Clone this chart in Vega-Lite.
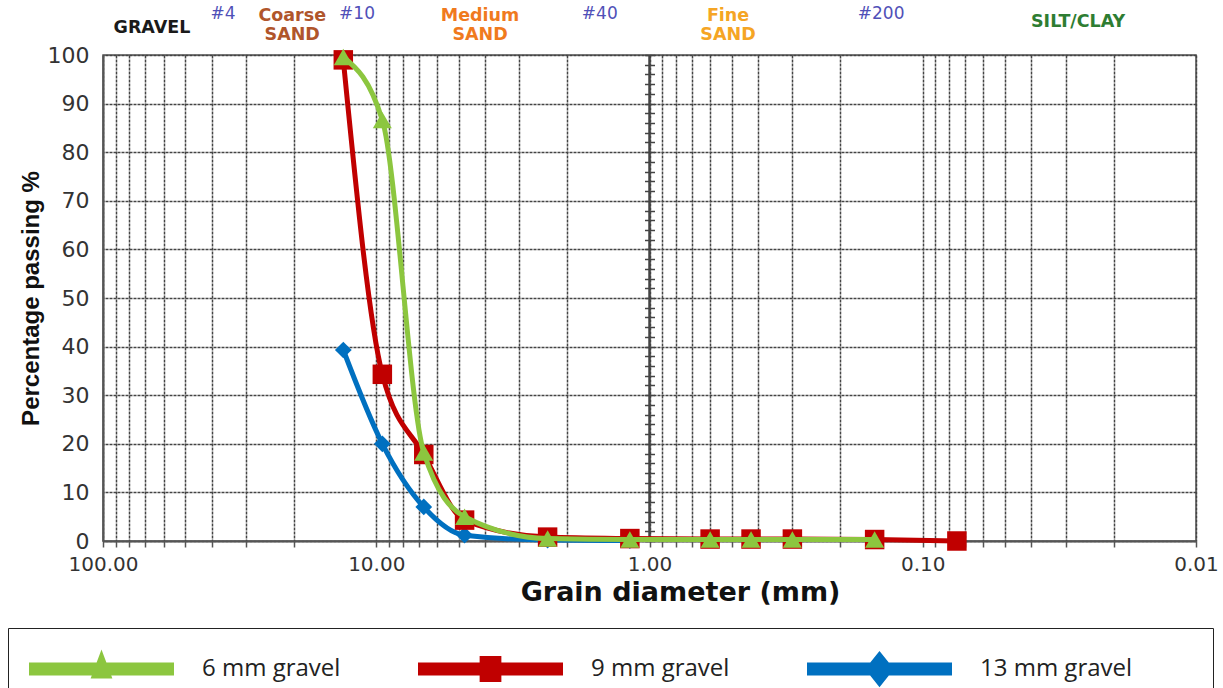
{
  "$schema": "https://vega.github.io/schema/vega-lite/v6.json",
  "width": 1093,
  "height": 486,
  "autosize": {"type": "none"},
  "padding": {"left": 103, "top": 55, "right": 27, "bottom": 147},
  "background": "white",
  "config": {"font": "DejaVu Sans", "view": {"stroke": "#555", "strokeWidth": 1.5}},
  "datasets": {
    "sieve": [
      {"s": "13 mm gravel", "d": 13.2, "p": 39.3},
      {"s": "13 mm gravel", "d": 9.5, "p": 20},
      {"s": "13 mm gravel", "d": 6.7, "p": 7},
      {"s": "13 mm gravel", "d": 4.75, "p": 1.2},
      {"s": "13 mm gravel", "d": 2.36, "p": 0.2},
      {"s": "13 mm gravel", "d": 1.18, "p": 0.1},
      {"s": "9 mm gravel", "d": 13.2, "p": 99},
      {"s": "9 mm gravel", "d": 9.5, "p": 34.3},
      {"s": "9 mm gravel", "d": 6.7, "p": 17.8},
      {"s": "9 mm gravel", "d": 4.75, "p": 4.3},
      {"s": "9 mm gravel", "d": 2.36, "p": 0.8},
      {"s": "9 mm gravel", "d": 1.18, "p": 0.5},
      {"s": "9 mm gravel", "d": 0.6, "p": 0.4},
      {"s": "9 mm gravel", "d": 0.425, "p": 0.4},
      {"s": "9 mm gravel", "d": 0.3, "p": 0.4},
      {"s": "9 mm gravel", "d": 0.15, "p": 0.3},
      {"s": "9 mm gravel", "d": 0.075, "p": 0},
      {"s": "6 mm gravel", "d": 13.2, "p": 99.6},
      {"s": "6 mm gravel", "d": 9.5, "p": 86.6},
      {"s": "6 mm gravel", "d": 6.7, "p": 18.2},
      {"s": "6 mm gravel", "d": 4.75, "p": 5},
      {"s": "6 mm gravel", "d": 2.36, "p": 0.5},
      {"s": "6 mm gravel", "d": 1.18, "p": 0.3},
      {"s": "6 mm gravel", "d": 0.6, "p": 0.3},
      {"s": "6 mm gravel", "d": 0.425, "p": 0.3},
      {"s": "6 mm gravel", "d": 0.3, "p": 0.3},
      {"s": "6 mm gravel", "d": 0.15, "p": 0.3}
    ],
    "zones": [
      {"t": "GRAVEL", "d": 66.2, "p": 105.6, "k": "gravel"},
      {"t": ["Coarse", "SAND"], "d": 20.3, "p": 108.1, "k": "coarse"},
      {"t": ["Medium", "SAND"], "d": 4.17, "p": 108.1, "k": "medium"},
      {"t": ["Fine", "SAND"], "d": 0.516, "p": 108.0, "k": "fine"},
      {"t": "SILT/CLAY", "d": 0.027, "p": 106.8, "k": "silt"}
    ],
    "sieves": [
      {"t": "#4", "d": 36.4, "p": 108.4},
      {"t": "#10", "d": 11.76, "p": 108.4},
      {"t": "#40", "d": 1.52, "p": 108.4},
      {"t": "#200", "d": 0.142, "p": 108.4}
    ]
  },
  "data": {"name": "sieve"},
  "layer": [
    {
      "transform": [{"filter": "datum.s === '13 mm gravel'"}],
      "mark": {"type": "line", "interpolate": "monotone", "strokeWidth": 5},
      "encoding": {
        "x": {
          "field": "d", "type": "quantitative",
          "scale": {"type": "log", "domain": [0.01, 100], "reverse": true, "nice": false},
          "axis": {
            "title": "Grain diameter (mm)", "titleFontSize": 27, "titleFontWeight": "bold", "titleColor": "#111",
            "titlePadding": 5, "titleX": 577,
            "values": [100, 90, 80, 70, 60, 50, 40, 30, 20, 10, 9, 8, 7, 6, 5, 4, 3, 2, 1, 0.9, 0.8, 0.7, 0.6, 0.5, 0.4, 0.3, 0.2, 0.1, 0.09, 0.08, 0.07, 0.06, 0.05, 0.04, 0.03, 0.02, 0.01],
            "labelExpr": "indexof([100, 10, 1, 0.1, 0.01], datum.value) >= 0 ? format(datum.value, '.2f') : ''",
            "labelFontSize": 20, "labelColor": "#333", "labelPadding": 7, "labelFlush": false, "labelOverlap": false,
            "tickSize": 6, "tickColor": "#555", "tickWidth": 1.5,
            "domainColor": "#555", "domainWidth": 2,
            "grid": true, "gridColor": "#444", "gridWidth": 1.5, "gridDash": [3, 1]
          }
        },
        "y": {
          "field": "p", "type": "quantitative",
          "scale": {"domain": [0, 100], "nice": false},
          "axis": {
            "title": "Percentage passing %", "titleFont": "Liberation Sans", "titleFontSize": 24, "titleFontWeight": "bold",
            "titleColor": "#111", "titlePadding": 4,
            "values": [0, 10, 20, 30, 40, 50, 60, 70, 80, 90, 100],
            "labelFontSize": 22, "labelColor": "#333", "labelPadding": 14, "ticks": false,
            "domainColor": "#555", "domainWidth": 2,
            "grid": true, "gridColor": "#444", "gridWidth": 1.5, "gridDash": [3, 1]
          }
        },
        "color": {
          "field": "s", "type": "nominal",
          "scale": {"domain": ["6 mm gravel", "9 mm gravel", "13 mm gravel"], "range": ["#8CC63F", "#C00000", "#0070C0"]},
          "legend": {
            "title": " ", "titleOrient": "right", "titlePadding": 60,
            "orient": "none", "legendX": -95, "legendY": 573,
            "direction": "horizontal", "columns": 3, "gridAlign": "all",
            "symbolSize": 21025, "clipHeight": 40, "symbolStrokeWidth": 0,
            "labelFont": "Open Sans", "labelFontSize": 24, "labelColor": "#222", "labelOffset": 28,
            "columnPadding": 63, "padding": 21,
            "strokeColor": "#222", "fillColor": "white",
            "encode": {
              "symbols": {
                "update": {
                  "shape": {"signal": "datum.value === '6 mm gravel' ? 'M-1,-0.09L1,-0.09L1,0.09L-1,0.09Z M-0.15,0.13L0,-0.27L0.15,0.13Z' : datum.value === '9 mm gravel' ? 'M-1,-0.09L1,-0.09L1,0.09L-1,0.09Z M-0.15,-0.18L0.15,-0.18L0.15,0.18L-0.15,0.18Z' : 'M-1,-0.09L1,-0.09L1,0.09L-1,0.09Z M0,-0.25L0.2,0L0,0.25L-0.2,0Z'"},
                  "fill": {"signal": "scale('color', datum.value)"},
                  "stroke": {"value": "transparent"},
                  "opacity": {"value": 1},
                  "strokeWidth": {"value": 0}
                }
              }
            }
          }
        }
      }
    },
    {
      "transform": [{"filter": "datum.s === '13 mm gravel'"}],
      "mark": {"type": "point", "shape": "diamond", "filled": true, "size": 280, "opacity": 1},
      "encoding": {
        "x": {"field": "d", "type": "quantitative"},
        "y": {"field": "p", "type": "quantitative", "axis": null},
        "color": {"field": "s", "type": "nominal"}
      }
    },
    {
      "data": {"values": [{"d": 1}]},
      "mark": {"type": "rule", "color": "#444", "strokeWidth": 2.5},
      "encoding": {"x": {"field": "d", "type": "quantitative"}}
    },
    {
      "transform": [{"filter": "datum.s === '9 mm gravel'"}],
      "mark": {"type": "line", "interpolate": "monotone", "strokeWidth": 5},
      "encoding": {
        "x": {"field": "d", "type": "quantitative"},
        "y": {"field": "p", "type": "quantitative", "axis": null},
        "color": {"field": "s", "type": "nominal"}
      }
    },
    {
      "transform": [{"filter": "datum.s === '9 mm gravel'"}],
      "mark": {"type": "point", "shape": "square", "filled": true, "size": 380, "opacity": 1},
      "encoding": {
        "x": {"field": "d", "type": "quantitative"},
        "y": {"field": "p", "type": "quantitative", "axis": null},
        "color": {"field": "s", "type": "nominal"}
      }
    },
    {
      "transform": [{"filter": "datum.s === '6 mm gravel'"}],
      "mark": {"type": "line", "interpolate": "monotone", "strokeWidth": 5},
      "encoding": {
        "x": {"field": "d", "type": "quantitative"},
        "y": {"field": "p", "type": "quantitative", "axis": null},
        "color": {"field": "s", "type": "nominal"}
      }
    },
    {
      "transform": [{"filter": "datum.s === '6 mm gravel'"}],
      "mark": {"type": "point", "shape": "triangle-up", "filled": true, "size": 360, "opacity": 1},
      "encoding": {
        "x": {"field": "d", "type": "quantitative"},
        "y": {
          "field": "p", "type": "quantitative",
          "axis": {
            "orient": "left", "offset": -551.5, "domain": false, "labels": false, "grid": false, "title": null,
            "ticks": true, "tickSize": 10, "tickColor": "#444", "tickWidth": 1.5,
            "values": [0, 2, 4, 6, 8, 10, 12, 14, 16, 18, 20, 22, 24, 26, 28, 30, 32, 34, 36, 38, 40, 42, 44, 46, 48, 50, 52, 54, 56, 58, 60, 62, 64, 66, 68, 70, 72, 74, 76, 78, 80, 82, 84, 86, 88, 90, 92, 94, 96, 98, 100]
          }
        },
        "color": {"field": "s", "type": "nominal"}
      }
    },
    {
      "data": {"name": "zones"},
      "mark": {"type": "text", "fontSize": 17.5, "fontWeight": "bold", "lineHeight": 19, "baseline": "middle", "align": "center"},
      "encoding": {
        "x": {"field": "d", "type": "quantitative"},
        "y": {"field": "p", "type": "quantitative", "axis": null},
        "text": {"field": "t"},
        "fill": {
          "field": "k", "type": "nominal",
          "scale": {"domain": ["gravel", "coarse", "medium", "fine", "silt"], "range": ["#1a1a1a", "#B0552B", "#F07A1E", "#F5A524", "#2E7D32"]},
          "legend": null
        }
      }
    },
    {
      "data": {"name": "sieves"},
      "mark": {"type": "text", "fontSize": 17, "baseline": "middle", "align": "center", "color": "#5050B8"},
      "encoding": {
        "x": {"field": "d", "type": "quantitative"},
        "y": {"field": "p", "type": "quantitative", "axis": null},
        "text": {"field": "t"}
      }
    }
  ],
  "resolve": {"axis": {"y": "independent"}}
}
